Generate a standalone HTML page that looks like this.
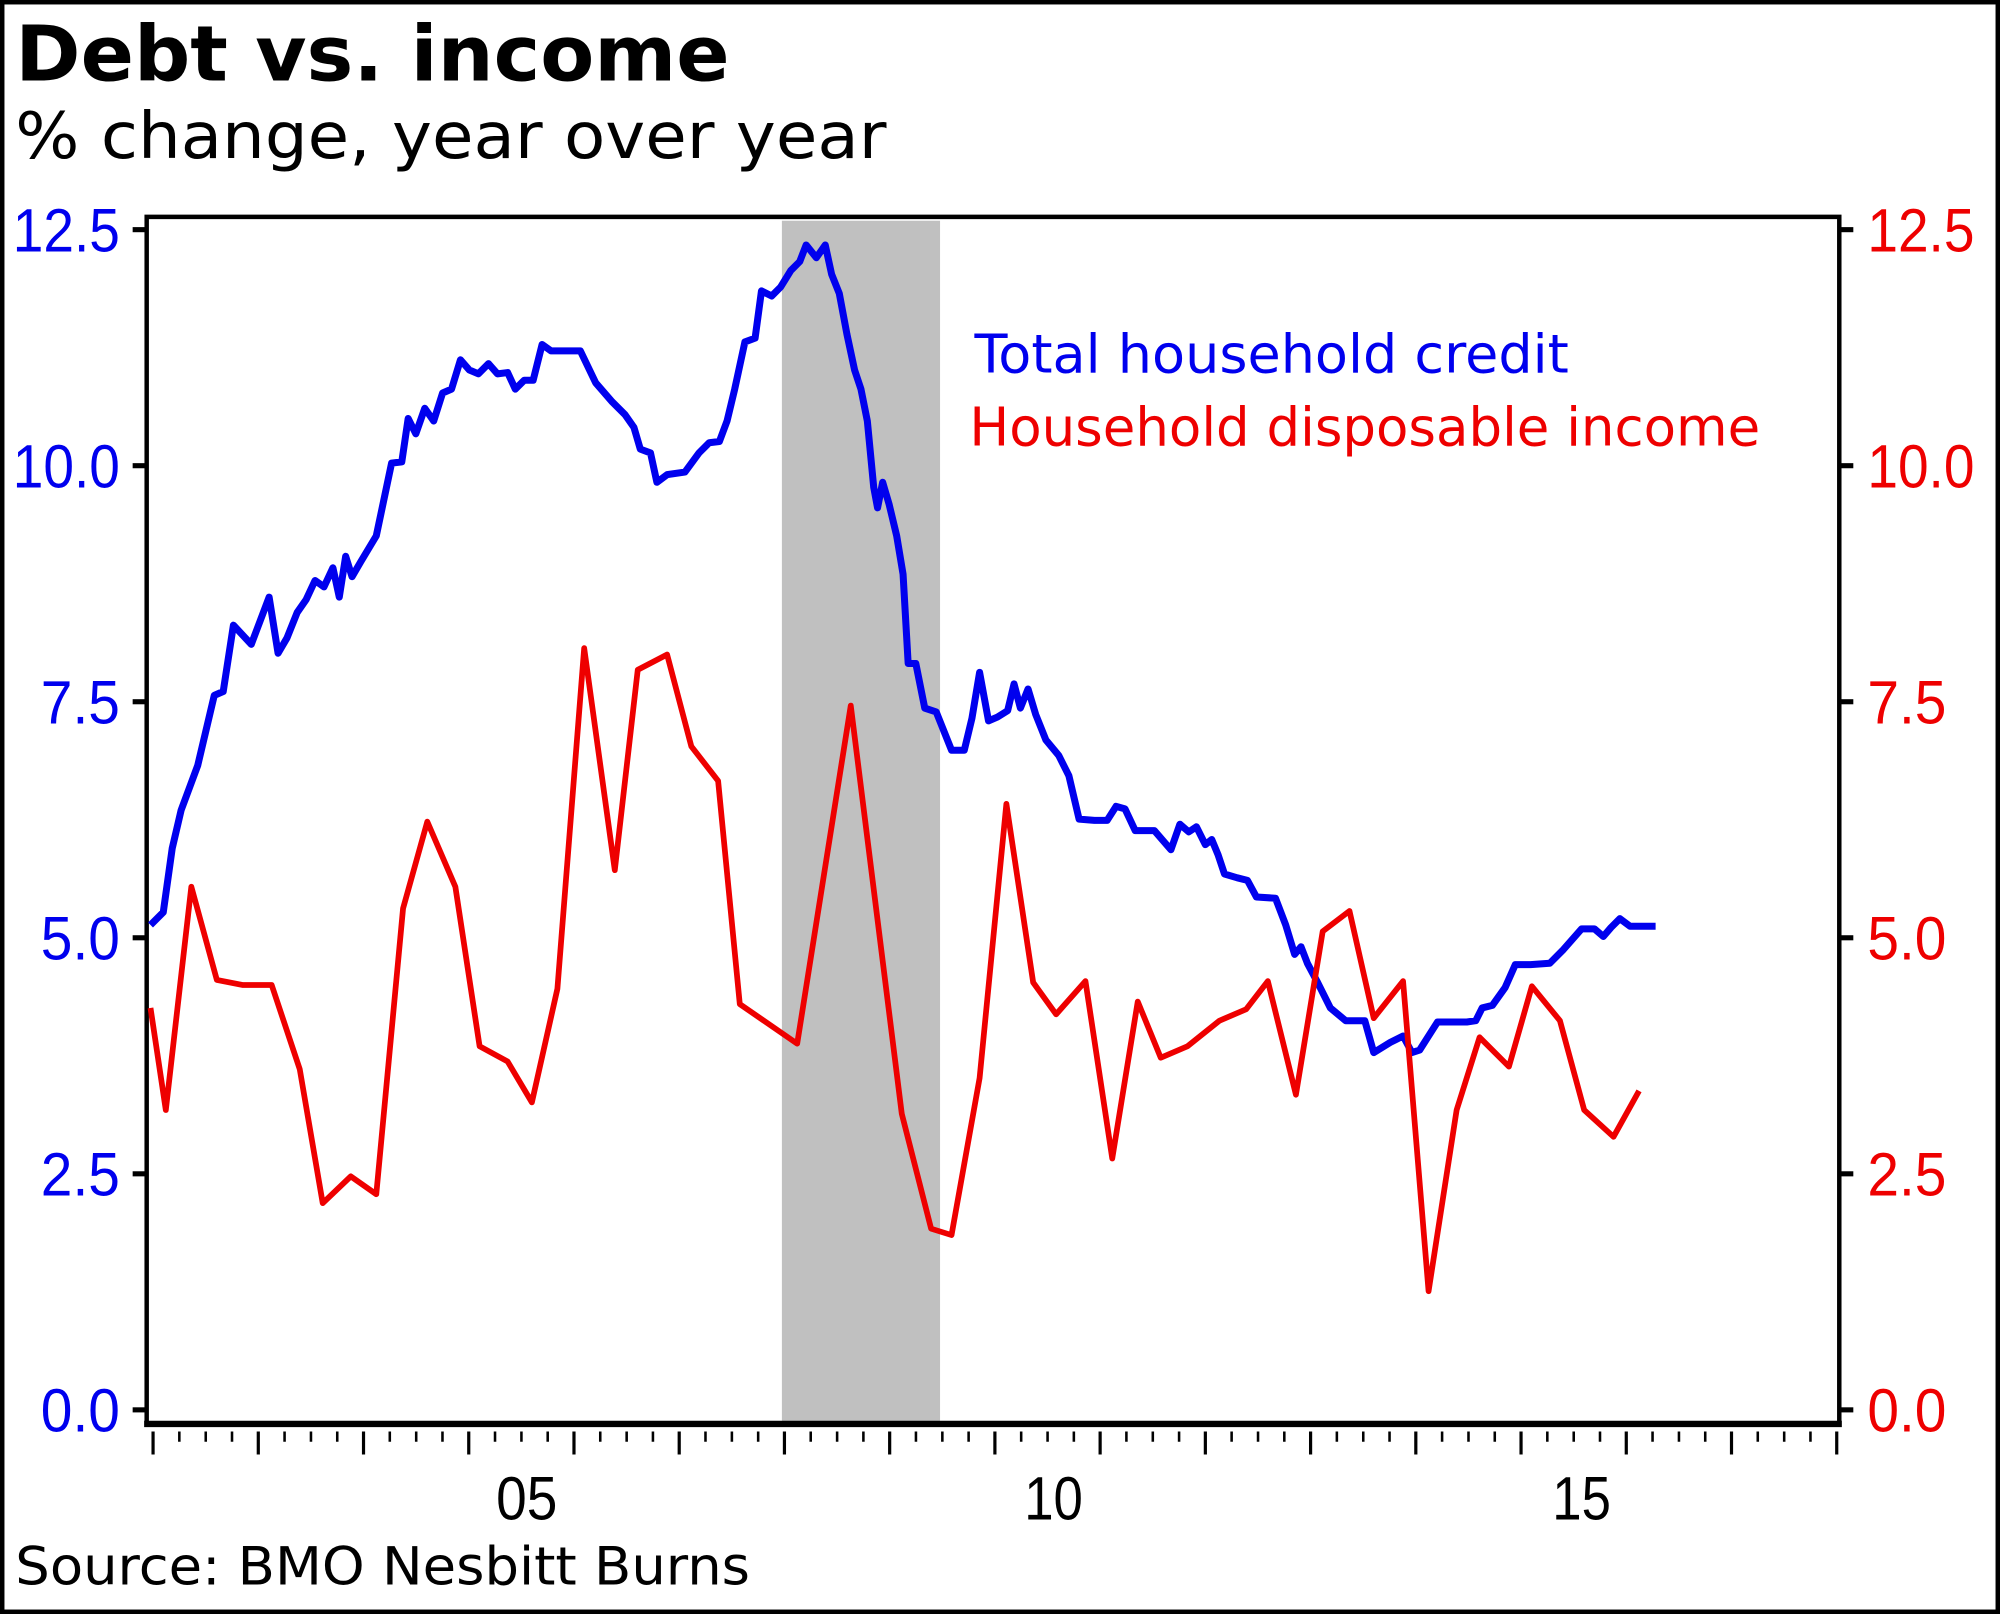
<!DOCTYPE html>
<html><head><style>html,body{margin:0;padding:0;background:#fff}svg{display:block}</style></head>
<body>
<svg width="2000" height="1614" viewBox="0 0 1568 1265" preserveAspectRatio="none" xmlns="http://www.w3.org/2000/svg">
<rect x="1.5" y="1.5" width="1565" height="1262" fill="#fff" stroke="#000" stroke-width="4"/>
<text x="12" y="63" font-family="DejaVu Sans, sans-serif" font-weight="bold" font-size="60" textLength="560" lengthAdjust="spacingAndGlyphs">Debt vs. income</text>
<text x="12" y="124" font-family="DejaVu Sans, sans-serif" font-size="50" textLength="683" lengthAdjust="spacingAndGlyphs">% change, year over year</text>
<rect x="613" y="173" width="124" height="944" fill="#c0c0c0"/>
<polyline fill="none" stroke="#000" stroke-width="3.5" points="115,1117 115,170 1442,170 1442,1117"/>
<line x1="113" y1="1116" x2="1444" y2="1116" stroke="#000" stroke-width="5"/>
<g stroke="#000" stroke-width="4">
<line x1="104" y1="180" x2="115" y2="180"/><line x1="104" y1="365" x2="115" y2="365"/><line x1="104" y1="550" x2="115" y2="550"/><line x1="104" y1="735" x2="115" y2="735"/><line x1="104" y1="920" x2="115" y2="920"/><line x1="104" y1="1105" x2="115" y2="1105"/>
<line x1="1442" y1="180" x2="1453" y2="180"/><line x1="1442" y1="365" x2="1453" y2="365"/><line x1="1442" y1="550" x2="1453" y2="550"/><line x1="1442" y1="735" x2="1453" y2="735"/><line x1="1442" y1="920" x2="1453" y2="920"/><line x1="1442" y1="1105" x2="1453" y2="1105"/>
</g>
<g font-family="Liberation Sans, sans-serif" font-size="48" fill="#0000ee" text-anchor="end">
<text x="94" y="197" textLength="84" lengthAdjust="spacingAndGlyphs">12.5</text>
<text x="94" y="382" textLength="84" lengthAdjust="spacingAndGlyphs">10.0</text>
<text x="94" y="567" textLength="62" lengthAdjust="spacingAndGlyphs">7.5</text>
<text x="94" y="752" textLength="62" lengthAdjust="spacingAndGlyphs">5.0</text>
<text x="94" y="937" textLength="62" lengthAdjust="spacingAndGlyphs">2.5</text>
<text x="94" y="1122" textLength="62" lengthAdjust="spacingAndGlyphs">0.0</text>
</g>
<g font-family="Liberation Sans, sans-serif" font-size="48" fill="#ee0000">
<text x="1464" y="197" textLength="84" lengthAdjust="spacingAndGlyphs">12.5</text>
<text x="1464" y="382" textLength="84" lengthAdjust="spacingAndGlyphs">10.0</text>
<text x="1464" y="567" textLength="62" lengthAdjust="spacingAndGlyphs">7.5</text>
<text x="1464" y="752" textLength="62" lengthAdjust="spacingAndGlyphs">5.0</text>
<text x="1464" y="937" textLength="62" lengthAdjust="spacingAndGlyphs">2.5</text>
<text x="1464" y="1122" textLength="62" lengthAdjust="spacingAndGlyphs">0.0</text>
</g>
<g font-family="Liberation Sans, sans-serif" font-size="48" fill="#000">
<text x="389" y="1191" textLength="48" lengthAdjust="spacingAndGlyphs">05</text><text x="803" y="1191" textLength="46" lengthAdjust="spacingAndGlyphs">10</text><text x="1217" y="1191" textLength="46" lengthAdjust="spacingAndGlyphs">15</text>
</g>
<text x="12" y="1242" font-family="DejaVu Sans, sans-serif" font-size="41" textLength="576" lengthAdjust="spacingAndGlyphs">Source: BMO Nesbitt Burns</text>
<text x="764" y="292" font-family="DejaVu Sans, sans-serif" font-size="42" fill="#0000ee" textLength="466" lengthAdjust="spacingAndGlyphs">Total household credit</text>
<text x="760" y="349" font-family="DejaVu Sans, sans-serif" font-size="42" fill="#ee0000" textLength="620" lengthAdjust="spacingAndGlyphs">Household disposable income</text>
<polyline fill="none" stroke="#0000ee" stroke-width="5.5" stroke-linejoin="round" points="118,725 128,715 135,665 142,635 155,600 168,545 175,542 183,490 197,505 211,468 218,512 225,500 233,480 240,470 247,455 254,460 261,445 266,468 271,436 276,452 283,440 295,420 307,363 315,362 320,328 326,340 333,320 340,330 347,308 354,305 361,282 368,290 375,293 383,285 390,293 398,292 404,305 411,298 418,298 425,270 432,275 440,275 455,275 467,300 480,315 490,325 497,335 502,352 510,355 515,378 523,372 537,370 548,355 556,347 564,346 570,330 576,305 584,268 592,265 597,228 605,232 612,225 620,212 627,205 632,192 640,202 647,192 652,215 658,230 664,262 670,290 675,305 680,330 685,382 688,398 692,378 697,395 703,420 708,450 712,520 718,520 725,555 734,558 746,588 756,588 762,563 768,527 775,565 782,562 790,557 795,536 800,555 806,540 812,560 820,580 830,592 838,608 846,642 858,643 868,643 875,632 882,634 890,651 905,651 918,666 925,646 932,652 938,648 945,662 950,658 955,670 960,685 970,688 978,690 985,703 1000,704 1008,725 1015,748 1020,742 1025,755 1033,770 1043,790 1055,800 1070,800 1077,825 1090,817 1100,812 1107,825 1113,823 1120,812 1127,801 1140,801 1150,801 1157,800 1162,790 1170,788 1180,774 1188,756 1200,756 1215,755 1225,745 1240,728 1250,728 1257,734 1263,727 1270,720 1278,726 1298,726"/>
<polyline fill="none" stroke="#ee0000" stroke-width="4.5" stroke-linejoin="round" points="118,790 130,870 150,695 170,768 190,772 213,772 235,838 253,943 275,922 295,936 316,712 335,644 357,695 376,820 398,832 417,864 437,775 458,508 482,682 500,525 523,513 542,585 563,612 580,787 625,818 667,553 707,873 730,963 746,968 768,845 789,630 810,770 828,795 851,769 872,908 892,785 910,829 931,820 956,800 977,791 994,769 1016,858 1037,730 1058,714 1077,798 1100,769 1120,1012 1142,870 1160,813 1183,836 1201,773 1223,800 1242,870 1265,891 1285,855"/>
<g stroke="#000" stroke-width="2.5">
<path d="M120,1122v18M202.5,1122v18M285,1122v18M367.5,1122v18M450,1122v18M532.5,1122v18M615,1122v18M697.5,1122v18M780,1122v18M862.5,1122v18M945,1122v18M1027.5,1122v18M1110,1122v18M1192.5,1122v18M1275,1122v18M1357.5,1122v18M1440,1122v18"/>
</g>
<g stroke="#000" stroke-width="2">
<path d="M140.6,1122v8M161.3,1122v8M181.9,1122v8M223.1,1122v8M243.8,1122v8M264.4,1122v8M305.6,1122v8M326.3,1122v8M346.9,1122v8M388.1,1122v8M408.8,1122v8M429.4,1122v8M470.6,1122v8M491.3,1122v8M511.9,1122v8M553.1,1122v8M573.8,1122v8M594.4,1122v8M635.6,1122v8M656.3,1122v8M676.9,1122v8M718.1,1122v8M738.8,1122v8M759.4,1122v8M800.6,1122v8M821.3,1122v8M841.9,1122v8M883.1,1122v8M903.8,1122v8M924.4,1122v8M965.6,1122v8M986.3,1122v8M1006.9,1122v8M1048.1,1122v8M1068.8,1122v8M1089.4,1122v8M1130.6,1122v8M1151.3,1122v8M1171.9,1122v8M1213.1,1122v8M1233.8,1122v8M1254.4,1122v8M1295.6,1122v8M1316.3,1122v8M1336.9,1122v8M1378.1,1122v8M1398.8,1122v8M1419.4,1122v8"/>
</g>
</svg>
</body></html>
